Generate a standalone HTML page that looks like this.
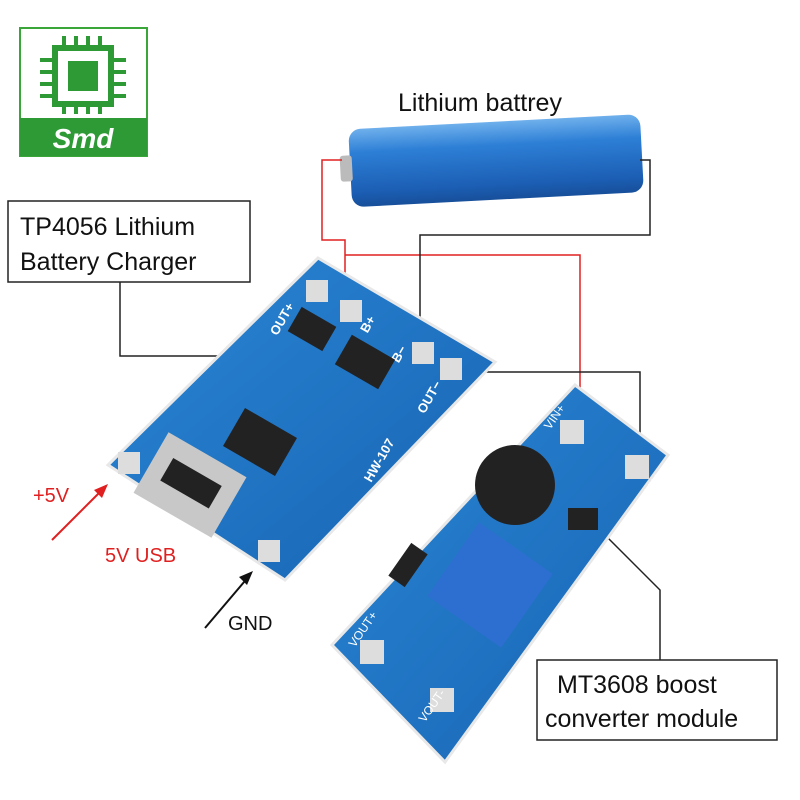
<!DOCTYPE html>
<html><head><meta charset="utf-8"><style>
body{margin:0;background:#fff;}
svg{display:block}
text{font-family:"Liberation Sans",sans-serif}
</style></head><body>
<svg width="800" height="800" viewBox="0 0 800 800" xmlns="http://www.w3.org/2000/svg">
<defs>
<linearGradient id="bat" x1="0" y1="0" x2="0" y2="1">
<stop offset="0" stop-color="#6fb0ec"/><stop offset="0.3" stop-color="#2d7fd6"/><stop offset="0.8" stop-color="#1c5fb5"/><stop offset="1" stop-color="#174f9a"/></linearGradient>
<linearGradient id="pcb" x1="0" y1="0" x2="1" y2="1">
<stop offset="0" stop-color="#2a86d4"/><stop offset="1" stop-color="#1764b3"/></linearGradient>
</defs>
<rect width="800" height="800" fill="#fff"/>
<!-- logo -->
<rect x="20" y="28" width="127" height="128" fill="#fff" stroke="#3aa63a" stroke-width="2"/>
<rect x="20" y="118" width="127" height="38" fill="#2e9a36"/>
<text x="83" y="148" font-size="28" font-weight="bold" fill="#fff" text-anchor="middle" font-style="italic">Smd</text>
<rect x="55" y="48" width="56" height="56" fill="none" stroke="#2e9a36" stroke-width="6"/>
<rect x="68" y="61" width="30" height="30" fill="#2e9a36"/>
<g stroke="#2e9a36" stroke-width="4">
<line x1="64" y1="36" x2="64" y2="46"/><line x1="76" y1="36" x2="76" y2="46"/><line x1="88" y1="36" x2="88" y2="46"/><line x1="100" y1="36" x2="100" y2="46"/>
<line x1="64" y1="106" x2="64" y2="114"/><line x1="76" y1="106" x2="76" y2="114"/><line x1="88" y1="106" x2="88" y2="114"/><line x1="100" y1="106" x2="100" y2="114"/>
<line x1="40" y1="60" x2="53" y2="60"/><line x1="40" y1="72" x2="53" y2="72"/><line x1="40" y1="84" x2="53" y2="84"/><line x1="40" y1="96" x2="53" y2="96"/>
<line x1="113" y1="60" x2="126" y2="60"/><line x1="113" y1="72" x2="126" y2="72"/><line x1="113" y1="84" x2="126" y2="84"/><line x1="113" y1="96" x2="126" y2="96"/>
</g>
<!-- battery -->
<text x="398" y="111" font-size="25" fill="#111">Lithium battrey</text>
<g transform="rotate(-3 490 160)">
<rect x="350" y="122" width="292" height="78" rx="12" fill="url(#bat)"/>
<rect x="340" y="148" width="12" height="26" rx="3" fill="#bbb"/>
</g>
<!-- wires -->
<polyline points="342,160 322,160 322,240 345,240 345,308" fill="none" stroke="#e02020" stroke-width="1.5"/>
<polyline points="345,255 580,255 580,410" fill="none" stroke="#e02020" stroke-width="1.5"/>
<polyline points="640,160 650,160 650,235 420,235 420,348" fill="none" stroke="#222" stroke-width="1.5"/>
<polyline points="455,372 640,372 640,460" fill="none" stroke="#222" stroke-width="1.5"/>
<polyline points="120,282 120,356 240,356" fill="none" stroke="#222" stroke-width="1.5"/>
<polyline points="600,530 660,590 660,660" fill="none" stroke="#222" stroke-width="1.5"/>
<!-- TP4056 board -->
<polygon points="318,258 495,362 285,580 108,465" fill="url(#pcb)" stroke="#e8e8e8" stroke-width="3"/>
<g fill="#ddd">
<rect x="306" y="280" width="22" height="22"/><rect x="340" y="300" width="22" height="22"/>
<rect x="412" y="342" width="22" height="22"/><rect x="440" y="358" width="22" height="22"/>
<rect x="118" y="452" width="22" height="22"/><rect x="258" y="540" width="22" height="22"/>
</g>
<g fill="#fff" font-size="13" font-weight="bold">
<text x="262" y="330" transform="rotate(-60 275 320)">OUT+</text>
<text x="356" y="330" transform="rotate(-60 365 322)">B+</text>
<text x="385" y="360" transform="rotate(-60 395 350)">B−</text>
<text x="408" y="410" transform="rotate(-60 420 398)">OUT−</text>
<text x="355" y="475" transform="rotate(-60 370 465)">HW-107</text>
</g>
<rect x="145" y="450" width="90" height="70" fill="#c8c8c8" transform="rotate(30 190 485)"/>
<rect x="162" y="470" width="56" height="26" fill="#222" transform="rotate(30 190 485)"/>
<rect x="230" y="420" width="60" height="44" fill="#222" transform="rotate(30 260 442)"/>
<rect x="340" y="345" width="50" height="34" fill="#222" transform="rotate(30 365 362)"/>
<rect x="292" y="315" width="40" height="28" fill="#222" transform="rotate(30 312 329)"/>
<!-- MT3608 board -->
<polygon points="575,385 668,455 445,762 332,645" fill="url(#pcb)" stroke="#e8e8e8" stroke-width="3"/>
<g fill="#ddd">
<rect x="560" y="420" width="24" height="24"/><rect x="625" y="455" width="24" height="24"/>
<rect x="360" y="640" width="24" height="24"/><rect x="430" y="688" width="24" height="24"/>
</g>
<g fill="#fff" font-size="12" font-family="Liberation Serif">
<text x="540" y="425" transform="rotate(-55 550 418)">VIN+</text>
<text x="640" y="490" transform="rotate(-55 650 482)">VIN-</text>
<text x="340" y="640" transform="rotate(-55 355 630)">VOUT+</text>
<text x="410" y="715" transform="rotate(-55 425 705)">VOUT-</text>
</g>
<circle cx="515" cy="485" r="40" fill="#222"/>
<rect x="445" y="540" width="90" height="90" fill="#2d6fd0" transform="rotate(35 490 585)"/>
<rect x="568" y="508" width="30" height="22" fill="#222"/>
<rect x="398" y="545" width="20" height="40" fill="#222" transform="rotate(35 408 565)"/>
<!-- label boxes -->
<rect x="8" y="201" width="242" height="81" fill="#fff" stroke="#222" stroke-width="1.5"/>
<text x="20" y="235" font-size="25" fill="#111">TP4056 Lithium</text>
<text x="20" y="270" font-size="25" fill="#111">Battery Charger</text>
<rect x="537" y="660" width="240" height="80" fill="#fff" stroke="#222" stroke-width="1.5"/>
<text x="557" y="693" font-size="25" fill="#111">MT3608 boost</text>
<text x="545" y="727" font-size="25" fill="#111">converter module</text>
<!-- power labels -->
<text x="33" y="502" font-size="20" fill="#e02020">+5V</text>
<line x1="52" y1="540" x2="105" y2="487" stroke="#e02020" stroke-width="2"/>
<polygon points="108,484 94,490 102,498" fill="#e02020"/>
<text x="105" y="562" font-size="20" fill="#e02020">5V USB</text>
<text x="228" y="630" font-size="20" fill="#111">GND</text>
<line x1="205" y1="628" x2="250" y2="575" stroke="#111" stroke-width="2"/>
<polygon points="253,571 239,577 247,585" fill="#111"/>
</svg>
</body></html>
